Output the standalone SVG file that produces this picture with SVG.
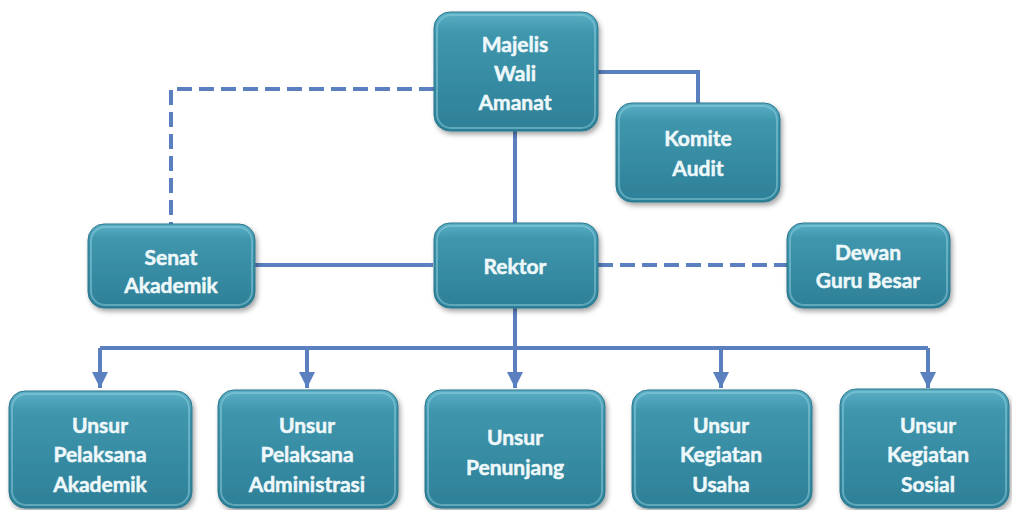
<svg xmlns="http://www.w3.org/2000/svg" width="1012" height="510" viewBox="0 0 1012 510">
<defs>
<linearGradient id="g" x1="0" y1="0" x2="0" y2="1">
<stop offset="0" stop-color="#5cb0c6"/>
<stop offset="0.18" stop-color="#3f96ad"/>
<stop offset="1" stop-color="#2d8097"/>
</linearGradient>
<filter id="sh" x="-10%" y="-10%" width="125%" height="130%">
<feDropShadow dx="2" dy="3" stdDeviation="2.5" flood-color="#000" flood-opacity="0.35"/>
</filter>
<marker id="ar" viewBox="0 0 10 10" refX="10" refY="5" markerWidth="4" markerHeight="4" orient="auto" markerUnits="strokeWidth">
<path d="M0,0 L10,5 L0,10 z" fill="#5a80c0"/>
</marker>
</defs>
<style>
.box{fill:url(#g);stroke:#2a768c;stroke-width:1;filter:url(#sh)}
.hl{fill:none;stroke:#8fd0e0;stroke-opacity:0.5;stroke-width:2}
.t{font-family:Lato,"Open Sans",sans-serif;font-weight:bold;font-size:21px;fill:#eef8fb;stroke:#eef8fb;stroke-width:0.5;text-anchor:middle}
.c{fill:none;stroke:#5a80c0;stroke-width:4}
.d{stroke-dasharray:15 7}
</style>
<rect width="1012" height="510" fill="#fff"/>
<g id="connectors">
<path class="c d" d="M434,89 H171 V224"/>
<path class="c" d="M598,72 H698 V103"/>
<path class="c" d="M515,131 V223"/>
<path class="c" d="M255,265 H433"/>
<path class="c d" d="M598,265 H787"/>
<path class="c" d="M515,308 V348"/>
<path class="c" d="M100,348 H928"/>
<path class="c" d="M100,348 V388" marker-end="url(#ar)"/>
<path class="c" d="M307,348 V388" marker-end="url(#ar)"/>
<path class="c" d="M515,348 V388" marker-end="url(#ar)"/>
<path class="c" d="M721,348 V388" marker-end="url(#ar)"/>
<path class="c" d="M928,348 V388" marker-end="url(#ar)"/>
</g>
<g id="majelis">
<rect class="box" x="434" y="12" width="164" height="119" rx="16"/>
<rect class="hl" x="437" y="15" width="158" height="113" rx="14"/>
<text class="t" x="515" y="52">Majelis</text>
<text class="t" x="515" y="81">Wali</text>
<text class="t" x="515" y="110">Amanat</text>
</g>
<g id="komite">
<rect class="box" x="616" y="103" width="164" height="99" rx="16"/>
<rect class="hl" x="619" y="106" width="158" height="93" rx="14"/>
<text class="t" x="698" y="146">Komite</text>
<text class="t" x="698" y="176">Audit</text>
</g>
<g id="senat">
<rect class="box" x="88" y="224" width="167" height="84" rx="16"/>
<rect class="hl" x="91" y="227" width="161" height="78" rx="14"/>
<text class="t" x="171" y="265">Senat</text>
<text class="t" x="171" y="293">Akademik</text>
</g>
<g id="rektor">
<rect class="box" x="434" y="223" width="164" height="85" rx="16"/>
<rect class="hl" x="437" y="226" width="158" height="79" rx="14"/>
<text class="t" x="515" y="274">Rektor</text>
</g>
<g id="dewan">
<rect class="box" x="787" y="223" width="163" height="85" rx="16"/>
<rect class="hl" x="790" y="226" width="157" height="79" rx="14"/>
<text class="t" x="868" y="260">Dewan</text>
<text class="t" x="868" y="288">Guru Besar</text>
</g>
<g id="upa">
<rect class="box" x="9" y="391" width="183" height="117" rx="16"/>
<rect class="hl" x="12" y="394" width="177" height="111" rx="14"/>
<text class="t" x="100" y="433">Unsur</text>
<text class="t" x="100" y="462">Pelaksana</text>
<text class="t" x="100" y="492">Akademik</text>
</g>
<g id="upad">
<rect class="box" x="218" y="390" width="180" height="118" rx="16"/>
<rect class="hl" x="221" y="393" width="174" height="112" rx="14"/>
<text class="t" x="307" y="433">Unsur</text>
<text class="t" x="307" y="462">Pelaksana</text>
<text class="t" x="307" y="492">Administrasi</text>
</g>
<g id="upen">
<rect class="box" x="425" y="390" width="180" height="118" rx="16"/>
<rect class="hl" x="428" y="393" width="174" height="112" rx="14"/>
<text class="t" x="515" y="445">Unsur</text>
<text class="t" x="515" y="475">Penunjang</text>
</g>
<g id="uku">
<rect class="box" x="632" y="390" width="180" height="118" rx="16"/>
<rect class="hl" x="635" y="393" width="174" height="112" rx="14"/>
<text class="t" x="721" y="433">Unsur</text>
<text class="t" x="721" y="462">Kegiatan</text>
<text class="t" x="721" y="492">Usaha</text>
</g>
<g id="uks">
<rect class="box" x="840" y="389" width="169" height="119" rx="16"/>
<rect class="hl" x="843" y="392" width="163" height="113" rx="14"/>
<text class="t" x="928" y="433">Unsur</text>
<text class="t" x="928" y="462">Kegiatan</text>
<text class="t" x="928" y="492">Sosial</text>
</g>
</svg>
